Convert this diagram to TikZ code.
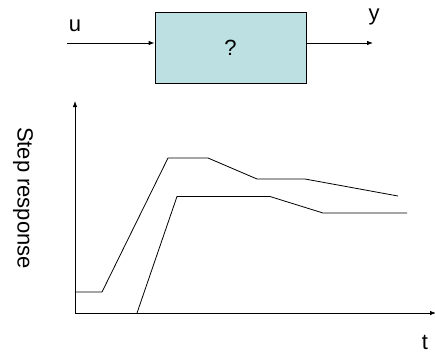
\documentclass[tikz,border=0pt]{standalone}
\usepackage{fontspec}
\setmainfont{Liberation Sans}
\usepackage{tikz}
\usetikzlibrary{arrows.meta,positioning}
\usepackage{xcolor}
\definecolor{plantfill}{RGB}{189,224,227}

\begin{document}
\begin{tikzpicture}[x=1pt, y=-1pt,
  plant/.style={draw, fill=plantfill, minimum width=151pt, minimum height=71pt,
                inner sep=0pt, line width=0.8pt, font=\fontsize{22}{24}\selectfont},
  lbl/.style={font=\fontsize{22}{24}\selectfont, inner sep=0pt},
  arr/.style={-{Latex[length=6pt, width=4.5pt]}, line width=0.8pt},
  resp/.style={line width=0.8pt, line join=miter}]
  \useasboundingbox (0,0) rectangle (435,354);
  \node[plant] (sys) at (230.5,47.5) {?};
  \coordinate (uin) at (67,43);
  \coordinate (yout) at (373,43);
  \node[lbl] (ulab) at (75,26) {u};
  \node[lbl] (ylab) at (374,17) {y};
  \draw[arr] (uin) -- (uin -| sys.west);
  \draw[arr] (yout -| sys.east) -- (yout);
  % axes
  \coordinate (orig) at (75,313);
  \coordinate (ytop) at (75,101);
  \coordinate (xend) at (436,313);
  \draw[arr] (orig) -- (ytop);
  \draw[arr] (orig) -- (xend);
  \node[lbl] (tlab) at (425,342) {t};
  \node[lbl, rotate=-90] (ylbl) at (23,198) {Step response};
  % responses
  \draw[resp] (75,292) -- (102,292) -- (168,158) -- (208,158) -- (257,179)
    -- (305,179) -- (398,196);
  \draw[resp] (137,313) -- (177,196.5) -- (270,196.5) -- (323,213) -- (407,213);
\end{tikzpicture}
\end{document}
